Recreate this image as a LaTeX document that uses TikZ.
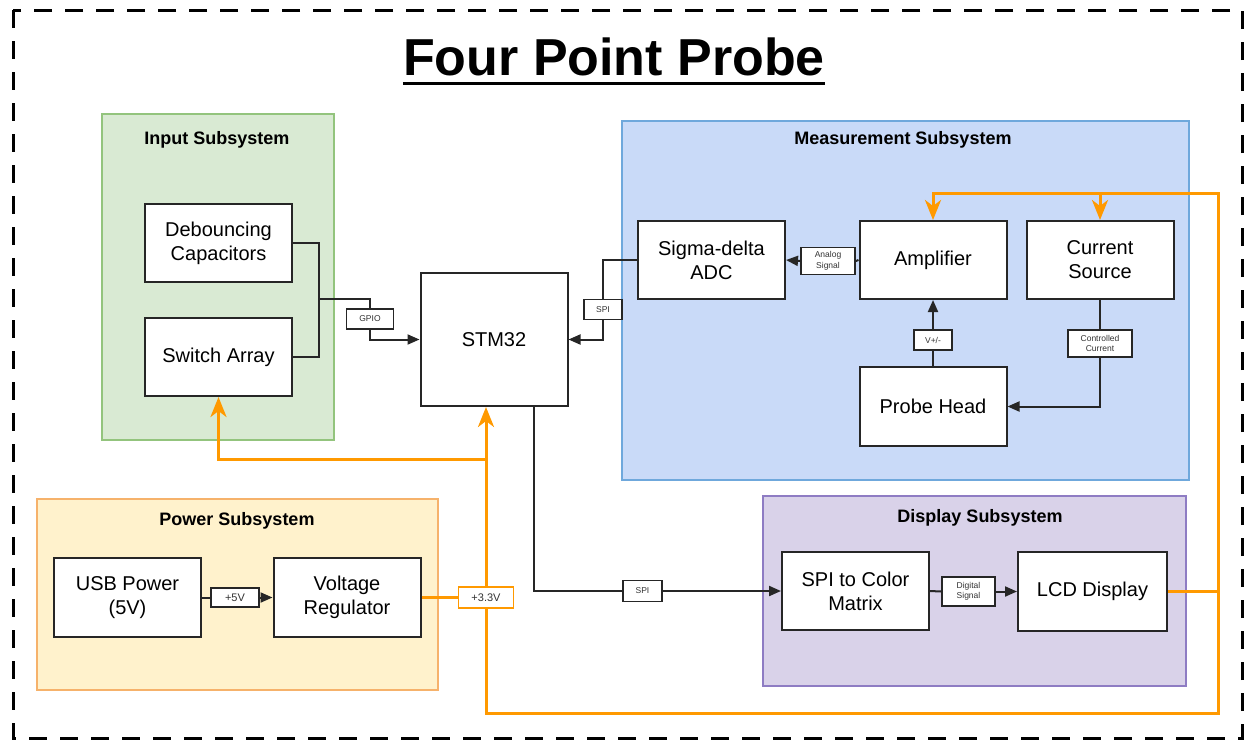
\documentclass[tikz,border=0pt]{standalone}
\usepackage{fontspec}
\setmainfont{Liberation Sans}
\usetikzlibrary{arrows.meta}

\definecolor{orng}{HTML}{FF9900}
\definecolor{grnfill}{HTML}{D9EAD3}
\definecolor{grnline}{HTML}{93C47D}
\definecolor{bluefill}{HTML}{C9DAF8}
\definecolor{blueline}{HTML}{6FA8DC}
\definecolor{ylwfill}{HTML}{FFF2CC}
\definecolor{ylwline}{HTML}{F6B26B}
\definecolor{prpfill}{HTML}{D9D2E9}
\definecolor{prpline}{HTML}{8E7CC3}

\begin{document}
\begin{tikzpicture}[x=1pt, y=-1pt,
  blk/.style={draw=black!85, line width=2pt, fill=white, align=center, inner sep=0pt,
    minimum width=147pt, minimum height=78pt, font=\fontsize{20}{24}\selectfont},
  tag/.style={draw=black!85, line width=1.8pt, fill=white, align=center, inner sep=0pt,
    font=\fontsize{8.5}{10.5}\selectfont\color{black!80}},
  panel/.style={line width=1.4pt, inner sep=0pt},
  ptitle/.style={anchor=base, font=\fontsize{18}{22}\selectfont\bfseries},
  wire/.style={line width=2pt, draw=black!85},
  arr/.style={-{Triangle[length=12pt,width=10pt]}},
  pwr/.style={line width=3pt, draw=orng},
  parr/.style={-{Stealth[length=20pt,width=16pt,inset=6pt]}}]
\useasboundingbox (0,0) rectangle (1246,740);
\draw[line width=3pt, dash pattern=on 18pt off 13pt] (13,10) rectangle (1242,738);

\node[anchor=base, inner sep=0pt, font=\fontsize{52}{60}\selectfont\bfseries] (title) at (614,75) {Four Point Probe};
\draw[line width=3pt] ([yshift=-8pt]title.base west) -- ([yshift=-8pt]title.base east);

% subsystems
\node[panel, draw=grnline, fill=grnfill, minimum width=232pt, minimum height=326pt] (input) at (218,277) {};
\node[panel, draw=blueline, fill=bluefill, minimum width=567pt, minimum height=359pt] (meas) at (905.5,300.5) {};
\node[panel, draw=ylwline, fill=ylwfill, minimum width=401pt, minimum height=191pt] (power) at (237.5,594.5) {};
\node[panel, draw=prpline, fill=prpfill, minimum width=423pt, minimum height=190pt] (disp) at (974.5,591) {};
\node[ptitle] at (217,144) {Input Subsystem};
\node[ptitle] at (903,144) {Measurement Subsystem};
\node[ptitle] at (237,525) {Power Subsystem};
\node[ptitle] at (980,522) {Display Subsystem};

% blocks
\node[blk] (deb) at (218.5,243) {Debouncing\\Capacitors};
\node[blk] (sw) at (218.5,357) {Switch Array};
\node[blk, minimum height=133pt] (stm) at (494,339.5) {STM32};
\node[blk] (adc) at (711.5,260) {Sigma-delta\\ADC};
\node[blk] (amp) at (933,260) {Amplifier};
\node[blk] (src) at (1100,260) {Current\\Source};
\node[blk, minimum height=79pt] (probe) at (933,406.5) {Probe Head};
\node[blk, minimum height=79pt] (usb) at (127.5,597.5) {USB Power\\(5V)};
\node[blk, minimum height=79pt] (reg) at (347,597.5) {Voltage\\Regulator};
\node[blk] (spicm) at (855.5,591) {SPI to Color\\Matrix};
\node[blk, minimum width=149pt, minimum height=79pt] (lcd) at (1092.5,591.5) {LCD Display};

% labels
\node[tag, minimum width=47pt, minimum height=20pt] (gpio) at (370,319) {GPIO};
\node[tag, minimum width=38pt, minimum height=20pt] (spia) at (603,309.5) {SPI};
\node[tag, minimum width=54pt, minimum height=27pt] (analog) at (828,261) {Analog\\Signal};
\node[tag, minimum width=38pt, minimum height=20pt] (vpm) at (933,340) {V+/-};
\node[tag, minimum width=64pt, minimum height=27pt] (ctrl) at (1100,343.5) {Controlled\\Current};
\node[tag, minimum width=39pt, minimum height=21pt] (spib) at (642.5,591) {SPI};
\node[tag, minimum width=53pt, minimum height=29pt] (digi) at (968.5,591.5) {Digital\\Signal};
\node[tag, minimum width=48pt, minimum height=19pt, font=\fontsize{11}{13}\selectfont\color{black!80}] (p5v) at (235,597.5) {+5V};
\node[tag, draw=orng, minimum width=55pt, minimum height=21pt, font=\fontsize{11}{13}\selectfont\color{black!80}] (p33) at (486,597.5) {+3.3V};

\coordinate (gj) at (319,299);
\coordinate (j1) at (486,459);
\coordinate (cb) at (1218,713);
\coordinate (ct) at (1218,193);

% signal wires
\draw[wire] (deb.east) -| (gj) |- (sw.east);
\draw[wire] (gj) -| (gpio.north);
\draw[wire, arr] (gpio.south) |- (stm.west);
\draw[wire] (adc.west) -| (spia.north);
\draw[wire, arr] (spia.south) |- (stm.east);
\draw[wire] ([xshift=40pt]stm.south) |- (spib.west);
\draw[wire, arr] (spib.east) -- (spicm.west);
\draw[wire] (amp.west) -- (analog.east);
\draw[wire, arr] (analog.west) -- (adc.east);
\draw[wire] (probe.north) -- (vpm.south);
\draw[wire, arr] (vpm.north) -- (amp.south);
\draw[wire] (src.south) -- (ctrl.north);
\draw[wire, arr] (ctrl.south) |- (probe.east);
\draw[wire] (spicm.east) -- (digi.west);
\draw[wire, arr] (digi.east) -- (lcd.west);
\draw[wire] (usb.east) -- (p5v.west);
\draw[wire, arr] (p5v.east) -- (reg.west);

% power wires
\draw[pwr] (reg.east) -- (p33.west);
\draw[pwr, parr] (p33.north) -- (p33.north |- stm.south);
\draw[pwr, parr] (j1) -| (sw.south);
\draw[pwr, parr] (p33.south) |- (cb) -- (ct) -| (amp.north);
\draw[pwr, parr] (ct -| src.north) -- (src.north);
\draw[pwr] (lcd.east) -- (lcd.east -| ct);
\end{tikzpicture}
\end{document}
